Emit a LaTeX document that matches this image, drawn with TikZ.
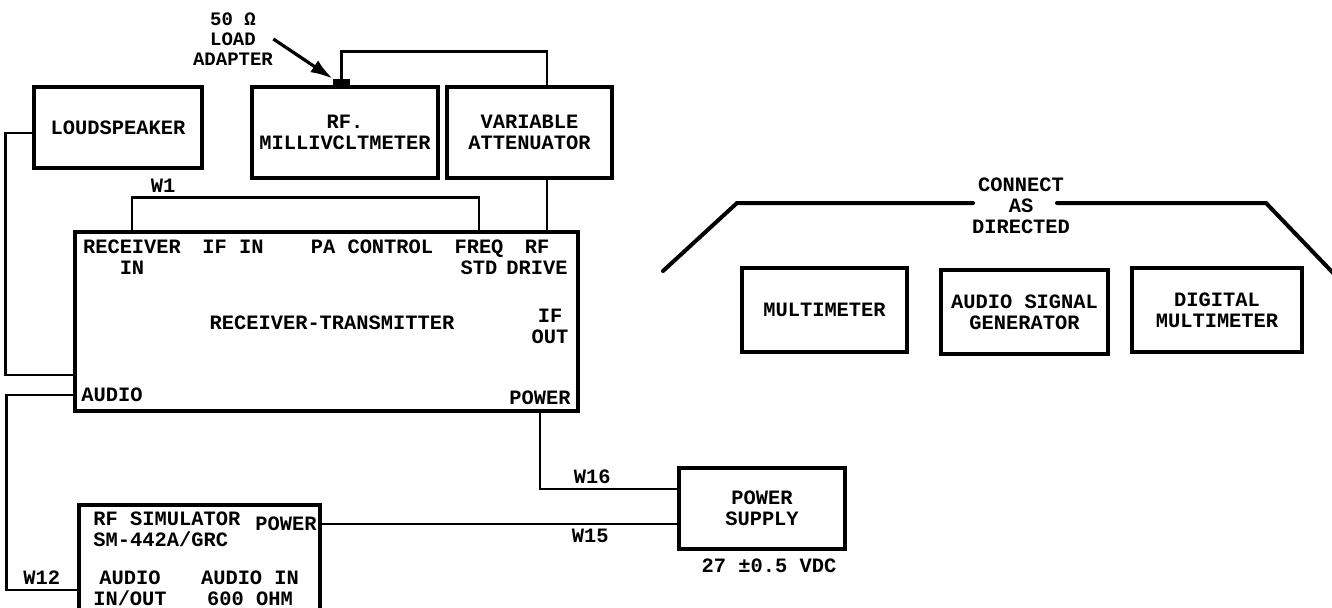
\documentclass[tikz,border=0pt]{standalone}
\usepackage{fontspec}
\setmainfont{Liberation Mono}
\usetikzlibrary{arrows.meta,calc}
\begin{document}
\begin{tikzpicture}[x=0.5pt, y=-0.5pt,
    every node/.style={font=\fontsize{10.2}{10.5}\selectfont\bfseries, inner sep=0pt, align=center},
    unit/.style={draw, line width=1.8pt},
    wire/.style={line width=1.4pt},
    frame/.style={line width=2pt, line cap=round}]
    \useasboundingbox (0,0) rectangle (1332,607);
    \clip (0,0) rectangle (1332,607);
    \node[unit, minimum width=84pt, minimum height=40.5pt] (spk) at (118,127.5) {LOUDSPEAKER};
    \node[unit, minimum width=93pt, minimum height=45.5pt] (rfmv) at (345,132.5) {RF.\\MILLIVCLTMETER};
    \node[unit, minimum width=82.5pt, minimum height=45.5pt] (att) at (529.5,132.5) {VARIABLE\\ATTENUATOR};
    \node[fill, minimum width=8.5pt, minimum height=4pt] (adp) at (341.5,83) {};
    \node[font=\fontsize{9.5}{10}\selectfont\bfseries] (load) at (233,39) {50 Ω\\LOAD\\ADAPTER};
    \draw[-{Latex[length=11pt,width=7pt]}, line width=1.6pt] (load.east) -- (adp.north west);
    \draw[wire] (adp.north) -- ++(0,-27) -| ([xshift=8.75pt]att.north);
    \node[unit, minimum width=251.5pt, minimum height=89.5pt] (rt) at (326.5,321.5) {};
    \node (rtname) at (332,323) {RECEIVER-TRANSMITTER};
    \node (rxin) at (132,257) {RECEIVER\\IN};
    \node (ifin) at (233,247) {IF IN};
    \node (pactl) at (372,247) {PA CONTROL};
    \node (freq) at (479,257) {FREQ\\STD};
    \node (rfdrv) at (537,257) {RF\\DRIVE};
    \node (ifout) at (550,326) {IF\\OUT};
    \node (audio) at (112,395) {AUDIO};
    \node (rtpwr) at (540,398) {POWER};
    \draw[wire] (rxin |- rt.north) -- ++(0,-33) -| (freq |- rt.north) node[pos=0.045, above=1.5pt] {W1};
    \draw[wire] ([xshift=8.75pt]att.south) -- ([xshift=8.75pt]att.south |- rt.north);
    \draw[wire] ([yshift=-2.75pt]spk.west) -- ++(-27,0) |- ($(rt.west |- audio)+(0,-20)$);
    \node[unit, minimum width=120.5pt, minimum height=62.5pt] (rfsim) at (199.5,567.5) {};
    \node[anchor=west, align=left] (rfsimname) at (93,529) {RF SIMULATOR\\SM-442A/GRC};
    \node (simpwr) at (286,524) {POWER};
    \node (simaud) at (130,588) {AUDIO\\IN/OUT};
    \node (simain) at (250,588) {AUDIO IN\\600 OHM};
    \draw[wire] (rt.west |- audio) -- ++(-67,0) |- ([yshift=-11.25pt]rfsim.west) node[pos=0.75, above=2pt] {W12};
    \node[unit, minimum width=83pt, minimum height=40.5pt] (ps) at (762,508.5) {POWER\\SUPPLY};
    \node (psv) at (769,566) {27 ±0.5 VDC};
    \draw[wire] (rtpwr |- rt.south) |- ($(ps.west)+(0,-19.5)$) node[pos=0.69, above=2pt] {W16};
    \draw[wire] (simpwr -| rfsim.east) -- (simpwr -| ps.west) node[pos=0.755, below=2pt] {W15};
    \node (cad) at (1021,206) {CONNECT\\AS\\DIRECTED};
    \draw[frame] (663,271) -- (737,203) -- (973,203);
    \draw[frame] (1057,203) -- (1266,203) -- (1336,276);
    \node[unit, minimum width=82.5pt, minimum height=42pt] (mm) at (824.5,310) {MULTIMETER};
    \node[unit, minimum width=83.5pt, minimum height=42pt] (asg) at (1024.5,312) {AUDIO SIGNAL\\GENERATOR};
    \node[unit, minimum width=85pt, minimum height=42pt] (dmm) at (1217,310) {DIGITAL\\MULTIMETER};
\end{tikzpicture}
\end{document}
